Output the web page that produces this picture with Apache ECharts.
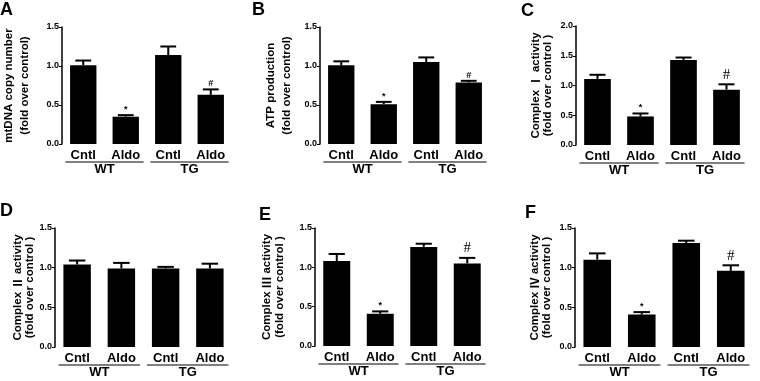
<!DOCTYPE html>
<html>
<head>
<meta charset="utf-8">
<script src="https://cdn.jsdelivr.net/npm/echarts@6/dist/echarts.min.js"></script>
<style>
  html, body { margin: 0; padding: 0; background: #fff; }
  #main { width: 760px; height: 381px; }
</style>
</head>
<body>
<div id="main"></div>
<script>
// data
var categories = ['Cntl', 'Aldo', 'Cntl', 'Aldo'];
var groups = ['WT', 'TG'];
var panelLetters = ['A', 'B', 'C', 'D', 'E', 'F'];
var yNames = [
    'mtDNA copy number\n(fold over control)',
    'ATP production\n(fold over control)',
    'Complex {r|Ⅰ} activity\n(fold over control )',
    'Complex {r|Ⅱ} activity\n(fold over control )',
    'Complex {r|Ⅲ} activity\n(fold over control )',
    'Complex {r|Ⅳ} activity\n(fold over control )'
];
var yMax = [1.5, 1.5, 2.0, 1.5, 1.5, 1.5];

var meansA = [1.01, 0.35, 1.14, 0.63];
var errA   = [0.06, 0.02, 0.11, 0.07];
var meansB = [1.01, 0.51, 1.05, 0.79];
var errB   = [0.05, 0.03, 0.06, 0.02];
var meansC = [1.11, 0.48, 1.43, 0.93];
var errC   = [0.07, 0.05, 0.04, 0.09];
var meansD = [1.04, 0.99, 0.99, 0.99];
var errD   = [0.05, 0.07, 0.02, 0.06];
var meansE = [1.08, 0.41, 1.26, 1.05];
var errE   = [0.09, 0.03, 0.04, 0.07];
var meansF = [1.10, 0.41, 1.31, 0.96];
var errF   = [0.08, 0.03, 0.03, 0.07];

var marks     = ['', '*', '', '#'];
var marksNone = ['', '', '', ''];

var means = [meansA, meansB, meansC, meansD, meansE, meansF];
var errs = [errA, errB, errC, errD, errE, errF];
var panelMarks = [marks, marks, marks, marksNone, marks, marks];
var bigHash = [false, false, true, false, true, true];

// layout
var grids = [
    { left: 62,  top: 27,  width: 170, height: 117 },
    { left: 320, top: 27,  width: 170, height: 117 },
    { left: 576, top: 26,  width: 172, height: 119 },
    { left: 55,  top: 228, width: 177, height: 119 },
    { left: 315, top: 228, width: 174, height: 118 },
    { left: 575, top: 228, width: 178, height: 119 }
];
var nameGaps = [29, 25, 22, 19, 29, 22];
var nameLineH = [16, 16, 12, 12, 13, 12];
var letterPos = [[0, 1], [252, 1], [521, 2], [0, 202], [259, 206], [525, 204]];

var FONT = '"Liberation Sans", Arial, sans-serif';

var chart = echarts.init(document.getElementById('main'));

var option = {
    animation: false,
    backgroundColor: '#fff',
    grid: [], xAxis: [], yAxis: [], series: [], graphic: []
};

function errorBarRenderer(pi) {
    return function (params, api) {
        var i = api.value(0), m = api.value(1), e = api.value(2);
        var base = api.coord([i, m]);
        var top = api.coord([i, m + e]);
        var bw = api.size([1, 0])[0] * 0.62;
        var half = bw * 0.3;
        var children = [
            { type: 'line', shape: { x1: base[0], y1: base[1], x2: top[0], y2: top[1] },
              style: { stroke: '#000', lineWidth: 2 } },
            { type: 'line', shape: { x1: top[0] - half, y1: top[1], x2: top[0] + half, y2: top[1] },
              style: { stroke: '#000', lineWidth: 2 } }
        ];
        var mk = panelMarks[pi][params.dataIndex];
        if (mk) {
            var big = mk === '#' && bigHash[pi];
            children.push({
                type: 'text',
                style: {
                    x: top[0], y: top[1] - (big ? 2 : 1),
                    text: mk, align: 'center', verticalAlign: 'bottom',
                    fontSize: big ? 15 : 9, fontWeight: big ? 'normal' : 'bold',
                    fontFamily: big ? '"Liberation Serif", serif' : FONT,
                    fill: '#000'
                }
            });
        }
        return { type: 'group', children: children };
    };
}

function underlineRenderer(params, api) {
    var c = api.coord([api.value(0), 0]);
    var bw = api.size([1, 0])[0];
    return {
        type: 'line',
        shape: { x1: c[0] - bw * 0.46, y1: c[1] + 18, x2: c[0] + bw * 0.46, y2: c[1] + 18 },
        style: { stroke: '#000', lineWidth: 1 }
    };
}

for (var p = 0; p < 6; p++) {
    var g = grids[p];
    option.grid.push({
        left: g.left, top: g.top, width: g.width, height: g.height,
        containLabel: false, outerBoundsMode: 'none'
    });
    option.xAxis[p] = {
        type: 'category', gridIndex: p, data: categories, position: 'bottom',
        axisLine: { show: false }, axisTick: { show: false },
        axisLabel: { color: '#000', fontFamily: FONT, fontWeight: 'bold', fontSize: 13, margin: 5, interval: 0 }
    };
    option.xAxis[6 + p] = {
        type: 'category', gridIndex: p, data: groups, position: 'bottom',
        axisLine: { show: false }, axisTick: { show: false },
        axisLabel: { color: '#000', fontFamily: FONT, fontWeight: 'bold', fontSize: 13, margin: 19, interval: 0 }
    };
    option.yAxis.push({
        type: 'value', gridIndex: p, min: 0, max: yMax[p], interval: 0.5,
        name: yNames[p], nameLocation: 'middle', nameGap: nameGaps[p],
        nameTextStyle: {
            color: '#000', fontFamily: FONT, fontWeight: 'bold', fontSize: 11.5, lineHeight: nameLineH[p],
            rich: {
                r: { fontFamily: '"Noto Sans CJK SC"', fontWeight: 'bold', fontSize: 11.5,
                     lineHeight: nameLineH[p], color: '#000' }
            }
        },
        axisLine: { show: true, lineStyle: { color: '#000', width: 1.5 } },
        axisTick: { show: true, length: 3, lineStyle: { color: '#000', width: 1 } },
        splitLine: { show: false },
        axisLabel: {
            color: '#000', fontFamily: FONT, fontWeight: 'bold', fontSize: 9, margin: 3,
            formatter: function (v) { return v.toFixed(1); }
        }
    });
    option.series.push({
        type: 'bar', xAxisIndex: p, yAxisIndex: p, data: means[p],
        barWidth: '62%', itemStyle: { color: '#000' }
    });
    option.series.push({
        type: 'custom', xAxisIndex: p, yAxisIndex: p, z: 5, clip: false,
        renderItem: errorBarRenderer(p),
        data: means[p].map(function (m, i) { return [i, m, errs[p][i]]; })
    });
    option.series.push({
        type: 'custom', xAxisIndex: 6 + p, yAxisIndex: p, clip: false,
        renderItem: underlineRenderer,
        data: groups.map(function (name, i) { return [i, 0]; })
    });
    option.graphic.push({
        type: 'text', left: letterPos[p][0], top: letterPos[p][1],
        style: { text: panelLetters[p], fontFamily: FONT, fontWeight: 'bold', fontSize: 18, fill: '#000' }
    });
}

chart.setOption(option);
</script>
</body>
</html>
